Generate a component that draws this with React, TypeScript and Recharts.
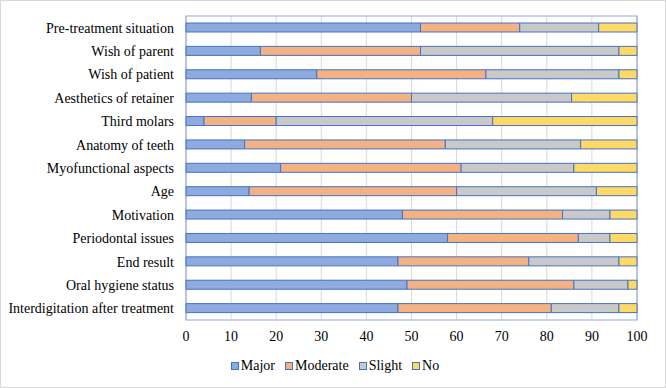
import React from "react";
import {
  BarChart,
  Bar,
  XAxis,
  YAxis,
  CartesianGrid,
  Legend,
  ReferenceArea,
} from "recharts";

// Factors, top to bottom
const categories = [
  "Pre-treatment situation",
  "Wish of parent",
  "Wish of patient",
  "Aesthetics of retainer",
  "Third molars ",
  "Anatomy of teeth",
  "Myofunctional aspects",
  "Age",
  "Motivation",
  "Periodontal issues",
  "End result",
  "Oral hygiene status",
  "Interdigitation after treatment",
];

// Share of answers (%) per importance level
const major = [52, 16.5, 29, 14.5, 4, 13, 21, 14, 48, 58, 47, 49, 47];
const moderate = [22, 35.5, 37.5, 35.5, 16, 44.5, 40, 46, 35.5, 29, 29, 37, 34];
const slight = [17.5, 44, 29.5, 35.5, 48, 30, 25, 31, 10.5, 7, 20, 12, 15];
const no = [8.5, 4, 4, 14.5, 32, 12.5, 14, 9, 6, 6, 4, 2, 4];

const xTicks = [0, 10, 20, 30, 40, 50, 60, 70, 80, 90, 100];

const series = [
  { key: "Major", values: major, color: "#8faadc" },
  { key: "Moderate", values: moderate, color: "#f4b183" },
  { key: "Slight", values: slight, color: "#c9c9c9" },
  { key: "No", values: no, color: "#ffd966" },
];

const data = categories.map((name, i) => {
  const row: Record<string, string | number> = { name };
  series.forEach((s) => {
    row[s.key] = s.values[i];
  });
  return row;
});

const FONT = "Liberation Serif";
const EDGE = "#4472c4";

// Single-line category label (no wrapping)
const CategoryTick = (props: any) => {
  const { x, y, payload } = props;
  return (
    <text
      x={x}
      y={y}
      dy="0.355em"
      textAnchor="end"
      fontFamily={FONT}
      fontSize={14}
      fill="#000"
    >
      {payload.value}
    </text>
  );
};

const LegendContent = () => (
  <div
    style={{
      display: "flex",
      justifyContent: "center",
      gap: 10,
      fontFamily: FONT,
      fontSize: 14,
      lineHeight: "17px",
      color: "#000",
      paddingLeft: 4,
    }}
  >
    {series.map((s) => (
      <span key={s.key} style={{ display: "flex", alignItems: "center" }}>
        <span
          style={{
            display: "inline-block",
            width: 6,
            height: 6,
            background: s.color,
            border: `1px solid ${EDGE}`,
            marginRight: 2,
          }}
        />
        {s.key}
      </span>
    ))}
  </div>
);

export default function App() {
  return (
    <div
      style={{
        position: "absolute",
        left: 0,
        top: 0,
        width: 666,
        height: 388,
        boxSizing: "border-box",
        border: "1px solid #d9d9d9",
        background: "#fff",
        fontFamily: FONT,
      }}
    >
      <div style={{ position: "absolute", left: -1, top: -1 }}>
        <BarChart
          width={666}
          height={388}
          data={data}
          layout="vertical"
          margin={{ top: 16, right: 29, bottom: 14, left: 0 }}
          barSize={9}
        >
          <CartesianGrid horizontal={false} stroke="#d9d9d9" />
          <XAxis
            type="number"
            domain={[0, 100]}
            ticks={xTicks}
            interval={0}
            axisLine={false}
            tickLine={false}
            tickMargin={5}
            height={37}
            tick={{ fontFamily: FONT, fontSize: 14, fill: "#000" }}
          />
          <YAxis
            type="category"
            dataKey="name"
            width={186}
            axisLine={false}
            tickLine={false}
            tickMargin={6}
            interval={0}
            tick={<CategoryTick />}
          />
          <ReferenceArea
            x1={0}
            x2={100}
            fill="none"
            stroke="#8faadc"
            strokeWidth={1.2}
            ifOverflow="visible"
          />
          {series.map((s) => (
            <Bar
              key={s.key}
              dataKey={s.key}
              stackId="a"
              fill={s.color}
              stroke={EDGE}
              strokeWidth={1}
              isAnimationActive={false}
            />
          ))}
          <Legend
            verticalAlign="bottom"
            wrapperStyle={{ left: 0, width: 666 }}
            content={<LegendContent />}
          />
        </BarChart>
      </div>
    </div>
  );
}
